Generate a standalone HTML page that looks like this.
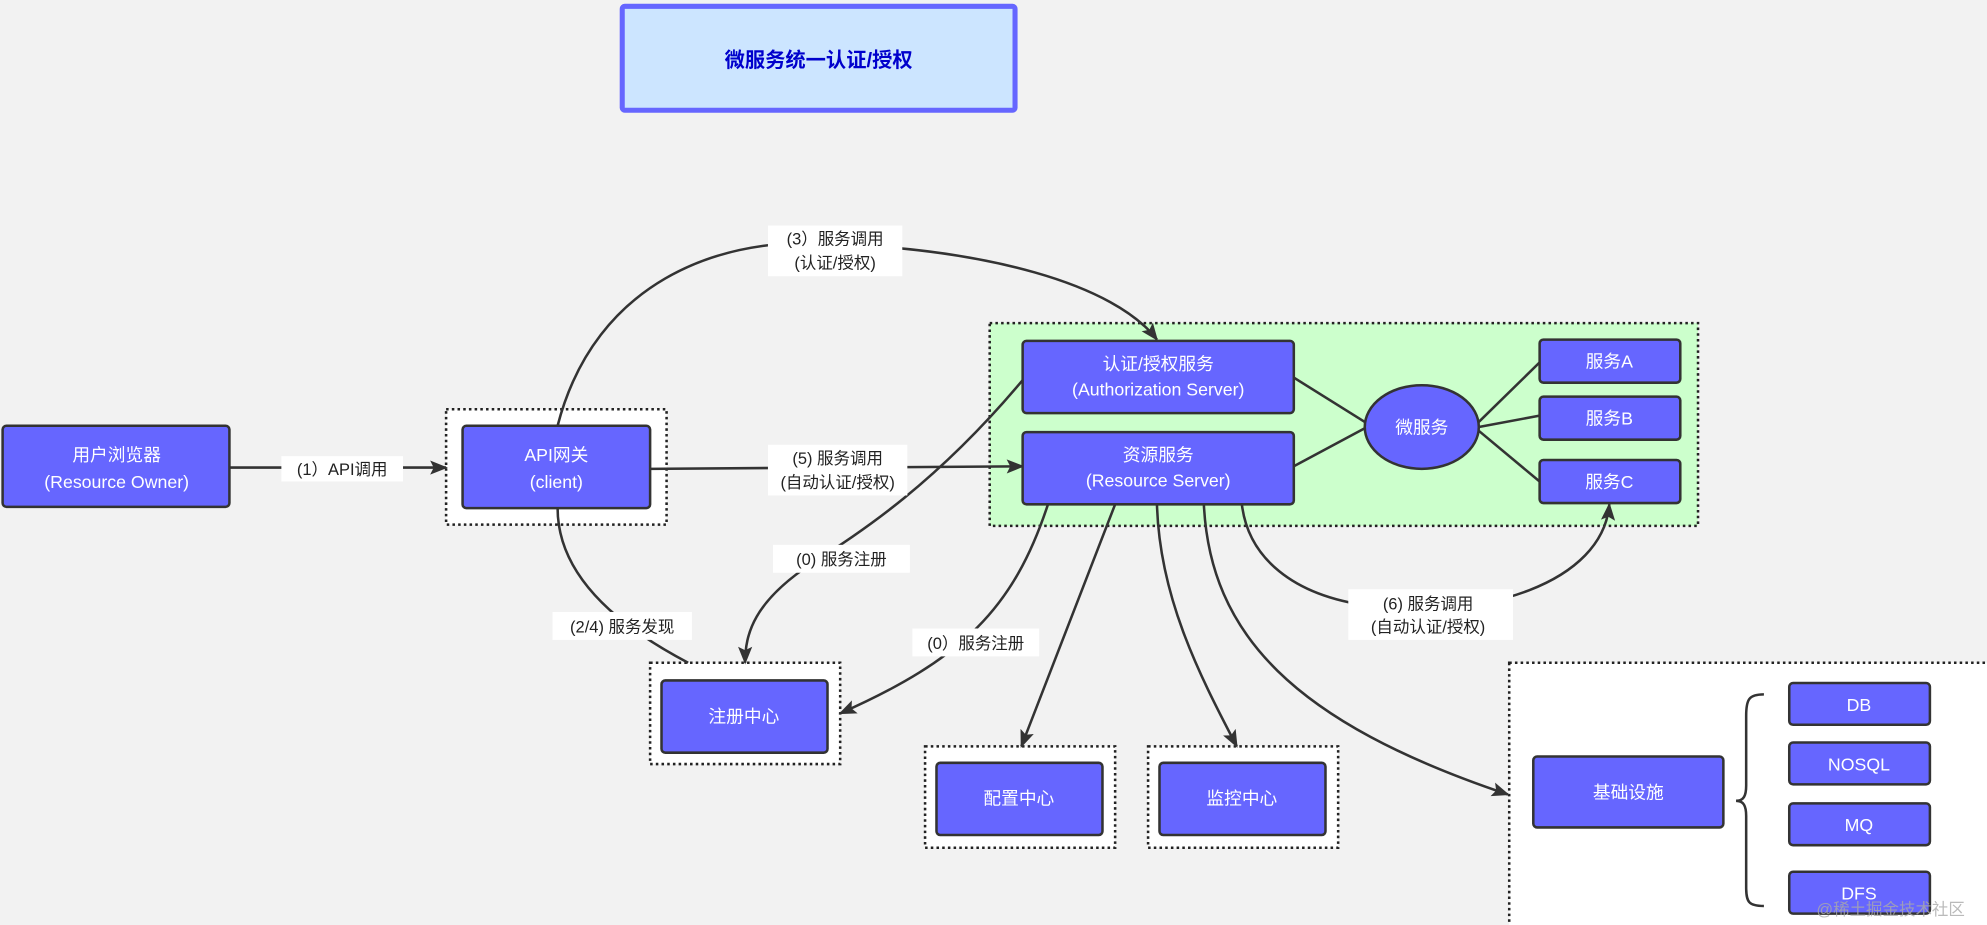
<!DOCTYPE html>
<html><head><meta charset="utf-8"><style>
html,body{margin:0;padding:0;background:#f2f2f2;}
svg{display:block;}
text{font-family:"Liberation Sans","Noto Sans CJK SC",sans-serif;}
</style></head><body>
<svg width="1987" height="925" viewBox="0 0 1568 730" xmlns="http://www.w3.org/2000/svg">
<defs>
<marker id="a" viewBox="0 0 10 10" refX="9" refY="5" markerWidth="7" markerHeight="7" orient="auto-start-reverse" markerUnits="userSpaceOnUse"><path d="M0,0 L10,5 L0,10 Z" fill="#333"/></marker>
<marker id="b" viewBox="0 0 10 10" refX="9" refY="5" markerWidth="14" markerHeight="14" orient="auto" markerUnits="userSpaceOnUse"><path d="M0,1 L10,5 L0,9 L2,5 Z" fill="#333"/></marker>
</defs>
<rect width="1568" height="730" fill="#f2f2f2"/>
<!-- title -->
<rect x="491" y="5" width="310" height="82" fill="#cce5ff" stroke="#6666ff" stroke-width="4" rx="2"/>
<text x="646" y="53" text-anchor="middle" font-size="16" font-weight="bold" fill="#0000cc">微服务统一认证/授权</text>

<!-- containers -->
<g stroke="#222" stroke-width="2" stroke-dasharray="2,2.5">
<rect x="352" y="323" width="174" height="91" fill="#fff"/>
<rect x="781" y="255" width="559" height="160" fill="#ccffcc"/>
<rect x="513" y="523" width="150" height="80" fill="#fff"/>
<rect x="730" y="589" width="150" height="80" fill="#fff"/>
<rect x="906" y="589" width="150" height="80" fill="#fff"/>
<rect x="1191" y="523" width="380" height="215" fill="#fff"/>
</g>

<!-- edges -->
<g fill="none" stroke="#333" stroke-width="2">
<path d="M181,369 L352,369" marker-end="url(#b)"/>
<path d="M513,370 L807,368" marker-end="url(#b)"/>
<path d="M440,336 C470,220 570,190 640,192 C780,195 880,225 913,268" marker-end="url(#b)"/>
<path d="M807,300 C740,380 680,420 640,445 C595,475 588,500 588,523" marker-end="url(#b)"/>
<path d="M440,401 C440,450 480,490 543,523"/>
<path d="M827,398 C800,480 760,520 663,563" marker-end="url(#b)"/>
<path d="M880,398 L806,589" marker-end="url(#b)"/>
<path d="M913,398 C915,470 945,530 976,589" marker-end="url(#b)"/>
<path d="M950,398 C955,500 1020,570 1190,627" marker-end="url(#b)"/>
<path d="M980,398 C985,440 1020,470 1080,478 C1170,490 1265,460 1270,398" marker-end="url(#b)"/>
<line x1="1021" y1="298" x2="1077" y2="333"/>
<line x1="1021" y1="368" x2="1077" y2="338"/>
<line x1="1167" y1="333" x2="1215" y2="286"/>
<line x1="1167" y1="337" x2="1215" y2="328"/>
<line x1="1167" y1="340" x2="1215" y2="380"/>
<path d="M1392,548 C1380,548 1378,552 1378,565 L1378,620 C1378,628 1376,632 1370,632 C1376,632 1378,636 1378,644 L1378,700 C1378,712 1380,715 1392,715"/>
</g>

<!-- edge labels -->
<g font-size="13" fill="#222" text-anchor="middle">
<rect x="222" y="360" width="96" height="20" fill="#fff"/>
<text x="270" y="375">(1）API调用</text>
<rect x="606" y="178" width="106" height="40" fill="#fff"/>
<text x="659" y="193">(3）服务调用</text><text x="659" y="212">(认证/授权)</text>
<rect x="606" y="351" width="110" height="40" fill="#fff"/>
<text x="661" y="366">(5) 服务调用</text><text x="661" y="385">(自动认证/授权)</text>
<rect x="610" y="430" width="108" height="22" fill="#fff"/>
<text x="664" y="446">(0) 服务注册</text>
<rect x="436" y="483" width="110" height="22" fill="#fff"/>
<text x="491" y="499">(2/4) 服务发现</text>
<rect x="720" y="496" width="100" height="22" fill="#fff"/>
<text x="770" y="512">(0）服务注册</text>
<rect x="1064" y="465" width="130" height="40" fill="#fff"/>
<text x="1127" y="481">(6) 服务调用</text><text x="1127" y="499">(自动认证/授权)</text>
</g>

<!-- nodes -->
<g fill="#6666ff" stroke="#333" stroke-width="2">
<rect x="2" y="336" width="179" height="64" rx="3"/>
<rect x="365" y="336" width="148" height="65" rx="3"/>
<rect x="807" y="269" width="214" height="57" rx="3"/>
<rect x="807" y="341" width="214" height="57" rx="3"/>
<ellipse cx="1122" cy="337" rx="45" ry="33"/>
<rect x="1215" y="268" width="111" height="34" rx="3"/>
<rect x="1215" y="313" width="111" height="34" rx="3"/>
<rect x="1215" y="363" width="111" height="34" rx="3"/>
<rect x="522" y="537" width="131" height="57" rx="3"/>
<rect x="739" y="602" width="131" height="57" rx="3"/>
<rect x="915" y="602" width="131" height="57" rx="3"/>
<rect x="1210" y="597" width="150" height="56" rx="3"/>
<rect x="1412" y="539" width="111" height="33" rx="3"/>
<rect x="1412" y="586" width="111" height="33" rx="3"/>
<rect x="1412" y="634" width="111" height="33" rx="3"/>
<rect x="1412" y="688" width="111" height="33" rx="3"/>
</g>
<g font-size="14" fill="#fff" text-anchor="middle">
<text x="92" y="364">用户浏览器</text><text x="92" y="385">(Resource Owner)</text>
<text x="439" y="364">API网关</text><text x="439" y="385">(client)</text>
<text x="914" y="292">认证/授权服务</text><text x="914" y="312">(Authorization Server)</text>
<text x="914" y="364">资源服务</text><text x="914" y="384">(Resource Server)</text>
<text x="1122" y="342">微服务</text>
<text x="1270" y="290">服务A</text>
<text x="1270" y="335">服务B</text>
<text x="1270" y="385">服务C</text>
<text x="587" y="570">注册中心</text>
<text x="804" y="635">配置中心</text>
<text x="980" y="635">监控中心</text>
<text x="1285" y="630">基础设施</text>
<text x="1467" y="561">DB</text>
<text x="1467" y="608">NOSQL</text>
<text x="1467" y="656">MQ</text>
<text x="1467" y="710">DFS</text>
</g>
<text x="1492" y="722" font-size="13" fill="#aaa" text-anchor="middle" opacity="0.8">@稀土掘金技术社区</text>
</svg>
</body></html>
